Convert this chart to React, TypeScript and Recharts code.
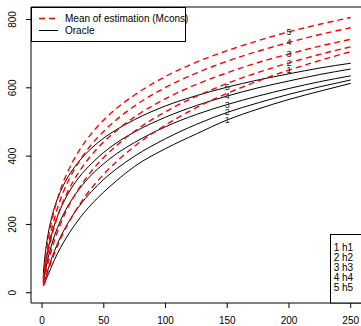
import React from 'react';
import { LineChart, Line, XAxis, YAxis, ReferenceArea } from 'recharts';

const xs = [1, 2, 3, 5, 7, 10, 15, 20, 30, 40, 50, 60, 75, 100, 125, 150, 175, 200, 225, 250];

// Oracle curves h1..h5 (black)
const oracle1 = [20, 28, 37, 53, 71, 96, 132, 163, 216, 259, 295, 327, 370, 422, 465, 506, 538, 566, 590, 613];
const oracle2 = [26, 36, 45, 70, 93, 122, 164, 198, 253, 296, 332, 362, 400, 451, 493, 528, 556, 581, 603, 623];
const oracle3 = [32, 49, 69, 103, 131, 166, 212, 248, 303, 345, 378, 406, 440, 486, 522, 551, 576, 598, 618, 635];
const oracle4 = [40, 64, 88, 128, 160, 198, 246, 283, 338, 378, 411, 438, 471, 514, 548, 576, 600, 620, 639, 655];
const oracle5 = [56, 96, 127, 174, 209, 249, 297, 333, 385, 423, 453, 477, 507, 547, 577, 602, 623, 641, 658, 672];

// Mean of estimation (Mcons) h1..h5 (red dashed)
const est1 = [20, 28, 40, 64, 86, 115, 158, 195, 256, 306, 347, 383, 429, 491, 542, 584, 620, 652, 680, 706];
const est2 = [26, 40, 58, 90, 117, 153, 202, 243, 306, 356, 396, 430, 473, 530, 575, 613, 645, 673, 698, 720];
const est3 = [30, 57, 80, 120, 153, 194, 248, 290, 354, 403, 442, 474, 515, 568, 610, 644, 674, 699, 722, 742];
const est4 = [36, 66, 93, 137, 173, 217, 274, 318, 384, 434, 473, 506, 547, 601, 643, 678, 707, 733, 756, 776];
const est5 = [43, 79, 109, 157, 197, 243, 303, 348, 416, 466, 506, 539, 579, 633, 675, 709, 738, 764, 786, 806];

const xTicks = [0, 50, 100, 150, 200, 250];
const yTicks = [0, 200, 400, 600, 800];
const legendNames = ['h1', 'h2', 'h3', 'h4', 'h5'];
const oracleLabelX = 150;
const estLabelX = 200;

const oracles = [oracle1, oracle2, oracle3, oracle4, oracle5];
const ests = [est1, est2, est3, est4, est5];

const data = xs.map((x, i) => {
  const row: Record<string, number> = { x };
  oracles.forEach((s, k) => { row['o' + (k + 1)] = s[i]; });
  ests.forEach((s, k) => { row['e' + (k + 1)] = s[i]; });
  return row;
});

const FONT = '"Liberation Sans", Arial, Helvetica, sans-serif';
const FS = 10;
const LABEL_FS = 9;

const XDOM: [number, number] = [-8.96, 259.96];
const YDOM: [number, number] = [-30, 836.6];

const makeLabel = (atX: number, text: string) => (props: any) => {
  const { x, y, index } = props;
  if (xs[index] !== atX) return null;
  return (
    <text key={'lab' + text + index} x={x} y={y} textAnchor="middle" dominantBaseline="central"
      fontSize={LABEL_FS} fontFamily={FONT} fill="#222">{text}</text>
  );
};

const XTick = (props: any) => {
  const { x, y, payload } = props;
  return (
    <text x={x} y={y} dy="0.71em" textAnchor="middle" fontSize={FS} fontFamily={FONT} fill="#000">
      {payload.value}
    </text>
  );
};

const YTick = (props: any) => {
  const { x, y, payload } = props;
  return (
    <text x={x} y={y} transform={`rotate(-90 ${x} ${y})`} textAnchor="middle" fontSize={FS}
      fontFamily={FONT} fill="#000">
      {payload.value}
    </text>
  );
};

export default function App() {
  return (
    <div style={{ position: 'absolute', left: 0, top: 0, width: 361, height: 326, overflow: 'hidden', background: '#fff' }}>
      <LineChart width={364} height={326} data={data} margin={{ top: 7, right: 1, left: 0, bottom: 0 }}>
        <XAxis dataKey="x" type="number" domain={XDOM} ticks={xTicks} allowDataOverflow
          height={23} tickSize={5} tickMargin={9} axisLine={false}
          tickLine={{ stroke: '#000' }} tick={<XTick />} interval={0} />
        <YAxis type="number" domain={YDOM} ticks={yTicks} allowDataOverflow
          width={31} tickSize={5} tickMargin={10} axisLine={false}
          tickLine={{ stroke: '#000' }} tick={<YTick />} interval={0} />
        <ReferenceArea x1={XDOM[0]} x2={XDOM[1]} y1={YDOM[0]} y2={YDOM[1]} fill="none" fillOpacity={0}
          stroke="#000" strokeWidth={1} ifOverflow="visible" />
        {oracles.map((_, k) => (
          <Line key={'o' + k} dataKey={'o' + (k + 1)} type="monotone" stroke="#000" strokeWidth={1}
            dot={false} isAnimationActive={false} label={makeLabel(oracleLabelX, String(k + 1))} />
        ))}
        {ests.map((_, k) => (
          <Line key={'e' + k} dataKey={'e' + (k + 1)} type="monotone" stroke="#ff0000" strokeWidth={1.4}
            strokeDasharray="6 4" dot={false} isAnimationActive={false}
            label={makeLabel(estLabelX, String(k + 1))} />
        ))}
      </LineChart>
      <svg width={361} height={326} style={{ position: 'absolute', left: 0, top: 0, pointerEvents: 'none' }}>
        <rect x={31.5} y={7.5} width={154} height={34} fill="#fff" stroke="#000" strokeWidth={1} />
        <line x1={39} x2={58} y1={18.5} y2={18.5} stroke="#ff0000" strokeWidth={1.4} strokeDasharray="6 4" />
        <line x1={39} x2={58} y1={30.5} y2={30.5} stroke="#000" strokeWidth={1} />
        <text x={65} y={18.5} dominantBaseline="central" fontSize={FS} fontFamily={FONT} fill="#000">Mean of estimation (Mcons)</text>
        <text x={65} y={30.5} dominantBaseline="central" fontSize={FS} fontFamily={FONT} fill="#000">Oracle</text>
        <rect x={330.5} y={234.5} width={40} height={68.5} fill="#fff" stroke="#000" strokeWidth={1} />
        {legendNames.map((n, i) => (
          <g key={n}>
            <text x={336.5} y={247.3 + i * 10.1} textAnchor="middle" dominantBaseline="central" fontSize={FS} fontFamily={FONT} fill="#000">{i + 1}</text>
            <text x={342} y={247.3 + i * 10.1} dominantBaseline="central" fontSize={FS} fontFamily={FONT} fill="#000">{n}</text>
          </g>
        ))}
      </svg>
    </div>
  );
}
